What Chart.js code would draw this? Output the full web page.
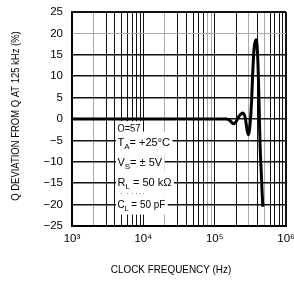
<!DOCTYPE html>
<html>
<head>
<meta charset="utf-8">
<script src="https://cdn.jsdelivr.net/npm/chart.js@4"></script>
<style>
  body { margin: 0; background: #fff; }
</style>
</head>
<body>
<canvas id="grafico" width="294" height="281"></canvas>
<script>
// datos
const frecuenciasHz = [1000, 148000, 164000, 183000, 200000, 219000, 248000, 269000, 285000, 297000,
  318000, 331000, 342000, 357000, 381000, 400000, 413000, 424000, 433000, 448000, 473000];
const desviacionQ = [0, 0, -0.4, -1.1, -0.6, 0.6, 1.4, 0.2, -2.6, -3.7,
  0, 5, 11, 16.5, 18.5, 15, 8, 0, -6, -12, -20.5];

const decadas = [1e3, 1e4, 1e5, 1e6];
const etiquetasDecadas = ['10³', '10⁴', '10⁵', '10⁶'];
const tituloX = 'CLOCK FREQUENCY (Hz)';
const tituloY = 'Q DEVIATION FROM Q AT 125 kHz (%)';

// texto de condiciones: [letra, subindice, resto] y el valor de y donde va
const notas = [['Q', '', '=57'], ['T', 'A', '= +25°C'], ['V', 'S', '= ± 5V'], ['R', 'L', ' = 50 kΩ'], ['C', 'L', ' = 50 pF']];
const notasY = [-2.4, -5.5, -10.3, -15, -20];

const fuente = "'Liberation Sans', Arial, sans-serif";
const estrecho = 0.86; // el texto original es condensado
const anchoNotas = [0.84, 1, 1, 1, 0.9];

// lineas de rejilla verticales: 1..9 en cada decada
const rejillaX = [];
decadas.slice(0, 3).forEach(d => { for (let m = 1; m < 10; m++) rejillaX.push(m * d); });
rejillaX.push(1e6);

const grises = [2e3, 2e4, 8e4, 9e4, 3e5, 5e5];

const textos = {
  id: 'textos',
  beforeDatasetsDraw(chart) {
    const { ctx, scales: { x, y } } = chart;
    const x0 = x.getPixelForValue(4000) + 1;
    ctx.save();
    ctx.textBaseline = 'middle';
    notas.forEach((n, i) => {
      const k = anchoNotas[i];
      const yc = y.getPixelForValue(notasY[i]);
      ctx.font = '11px ' + fuente;
      const w1 = ctx.measureText(n[0]).width * k;
      const w3 = ctx.measureText(n[2]).width * k;
      ctx.font = '8px ' + fuente;
      const w2 = n[1] ? ctx.measureText(n[1]).width * k : 0;
      ctx.fillStyle = '#fff';
      const alto = i === 0 ? 16 : 20;
      ctx.fillRect(x0, yc - alto / 2 - (i === 0 ? 0 : 1), w1 + w2 + w3 + 4, alto + 1);
      ctx.fillStyle = '#000';
      const xt = x0 + 1.5;
      const escribe = (t, px, py, tam) => {
        ctx.save();
        ctx.font = tam + 'px ' + fuente;
        ctx.translate(px, py);
        ctx.scale(k, 1);
        ctx.fillText(t, 0, 0);
        ctx.restore();
      };
      escribe(n[0], xt, yc, 11);
      if (n[1]) escribe(n[1], xt + w1, yc + 4, 8);
      escribe(n[2], xt + w1 + w2, yc, 11);
    });
    ctx.restore();
  },
  afterDraw(chart) {
    const { ctx, chartArea } = chart;
    ctx.save();
    ctx.fillStyle = '#000';
    ctx.font = '11px ' + fuente;
    ctx.textAlign = 'center';
    ctx.textBaseline = 'middle';
    ctx.save();
    ctx.translate((chartArea.left + chartArea.right) / 2 - 8, 270);
    ctx.scale(0.9, 1);
    ctx.fillText(tituloX, 0, 0);
    ctx.restore();
    ctx.translate(16, 116);
    ctx.rotate(-Math.PI / 2);
    ctx.scale(estrecho, 1);
    ctx.fillText(tituloY, 0, 0);
    ctx.restore();
  }
};

const ctx = document.querySelector('#grafico').getContext('2d');
const miGrafico = new Chart(ctx, {
  type: 'line',
  data: {
    datasets: [{
      data: frecuenciasHz.map((f, i) => ({ x: f, y: desviacionQ[i] })),
      borderColor: '#000',
      borderWidth: 3,
      pointRadius: 0,
      cubicInterpolationMode: 'monotone',
      fill: false
    }]
  },
  options: {
    responsive: false,
    animation: false,
    devicePixelRatio: 1,
    layout: { padding: { left: 0, top: 12, right: 8, bottom: 0 } },
    plugins: { legend: { display: false }, tooltip: { enabled: false } },
    scales: {
      x: {
        type: 'logarithmic',
        min: 1e3,
        max: 1e6,
        afterBuildTicks: (s) => { s.ticks = rejillaX.map(v => ({ value: v })); },
        afterFit: (s) => { s.height = 55; s.paddingLeft = 0; s.paddingRight = 0; },
        border: { color: '#000', width: 2 },
        grid: {
          drawTicks: false,
          color: (c) => grises.includes(c.tick.value) ? '#aaa' : '#111',
          lineWidth: (c) => c.tick.value === 1e6 ? 2 : 1
        },
        ticks: {
          autoSkip: false,
          maxRotation: 0,
          padding: 6,
          color: '#000',
          font: { family: fuente, size: 11.5 },
          callback: (v) => {
            const i = decadas.indexOf(v);
            return i >= 0 ? etiquetasDecadas[i] : '';
          }
        }
      },
      y: {
        min: -25,
        max: 25,
        afterFit: (s) => { s.width = 72; s.paddingTop = 0; s.paddingBottom = 0; },
        border: { color: '#000', width: 2 },
        grid: {
          drawTicks: false,
          color: (c) => c.tick.value === 20 ? '#aaa' : '#111',
          lineWidth: (c) => c.tick.value === 25 ? 2 : (c.tick.value === 20 ? 1 : 1.5)
        },
        ticks: {
          stepSize: 5,
          padding: 9,
          color: '#000',
          font: { family: fuente, size: 11.5 },
          callback: (v) => v < 0 ? '−' + (-v) : '' + v
        }
      }
    }
  },
  plugins: [textos]
});
</script>
</body>
</html>
